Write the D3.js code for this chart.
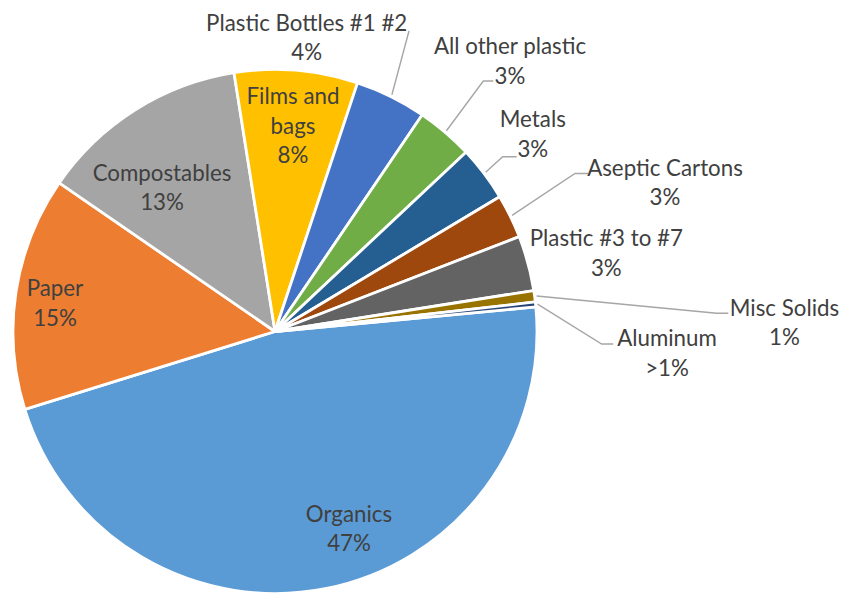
<!DOCTYPE html>
<html><head><meta charset="utf-8">
<script src="https://cdn.jsdelivr.net/npm/d3@7"></script>
<style>body{margin:0;background:#fff} svg{display:block}</style>
</head><body><svg id="c" width="846" height="593"></svg>
<script>
const categories = ["Organics","Paper","Compostables","Films and bags","Plastic Bottles #1 #2","All other plastic","Metals","Aseptic Cartons","Plastic #3 to #7","Misc Solids","Aluminum"];
const values = [46.7,14.4,12.9,7.6,4.4,3.5,3.4,2.7,3.4,0.7,0.3];
const percentLabels = ["47%","15%","13%","8%","4%","3%","3%","3%","3%","1%",">1%"];
const colors = ["#5B9BD5","#ED7D31","#A5A5A5","#FFC000","#4472C4","#70AD47","#255E91","#9E480E","#636363","#997300","#264478"];

// label layout (positions only): center x, first baseline y, leader elbow/end points
const labelLayout = [
 {x:349, y:521.7},
 {x:55, y:296},
 {x:162, y:180.7},
 {x:293, y:104.3, wrap:true},
 {x:306.7, y:30.7, leader:[[409,31]]},
 {x:510, y:54, leader:[[483.3,81],[493.3,81]]},
 {x:532.8, y:127.3, leader:[[502.7,156.7],[516.7,156.7]]},
 {x:665, y:175.7, leader:[[575,173.5],[588,173.5]]},
 {x:606.3, y:246},
 {x:784.5, y:315.7, leader:[[716.7,313.3],[728.3,313.3]]},
 {x:667, y:346, leader:[[601.7,344],[613.3,344]]}
];

const cx = 275, cy = 331.5, R = 262;
const svg = d3.select("#c");
const g = svg.append("g").attr("transform", `translate(${cx},${cy})`);

const start = 84.6 * Math.PI / 180;
const pie = d3.pie().sort(null).value(d => d).startAngle(start).endAngle(start + 2 * Math.PI);
const arcs = pie(values);
const arc = d3.arc().innerRadius(0).outerRadius(R);

g.selectAll("path.slice").data(arcs).join("path")
  .attr("class", "slice")
  .attr("d", arc)
  .attr("fill", (d, i) => colors[i])
  .attr("stroke", "#fff")
  .attr("stroke-width", 2.8)
  .attr("stroke-linejoin", "round");

// leader lines
const lineGen = d3.line();
arcs.forEach((a, i) => {
  const L = labelLayout[i];
  if (!L.leader) return;
  const mid = (a.startAngle + a.endAngle) / 2;
  const p0 = [cx + (R + 2) * Math.sin(mid), cy - (R + 2) * Math.cos(mid)];
  svg.append("path")
    .attr("d", lineGen([p0, ...L.leader]))
    .attr("fill", "none")
    .attr("stroke", "#A6A6A6")
    .attr("stroke-width", 1.4);
});

// labels
const lh = 29.5;
categories.forEach((c, i) => {
  const L = labelLayout[i];
  let lines;
  if (L.wrap) {
    const k = c.lastIndexOf(" ");
    lines = [c.slice(0, k), c.slice(k + 1)];
  } else lines = [c];
  lines.push(percentLabels[i]);
  const t = svg.append("text")
    .attr("text-anchor", "middle")
    .attr("font-family", "Lato, 'Open Sans', sans-serif")
    .attr("font-size", 22.3)
    .attr("fill", "#404040");
  lines.forEach((s, j) => {
    t.append("tspan").attr("x", L.x).attr("y", L.y + j * lh).text(s);
  });
});
</script>
</body></html>
